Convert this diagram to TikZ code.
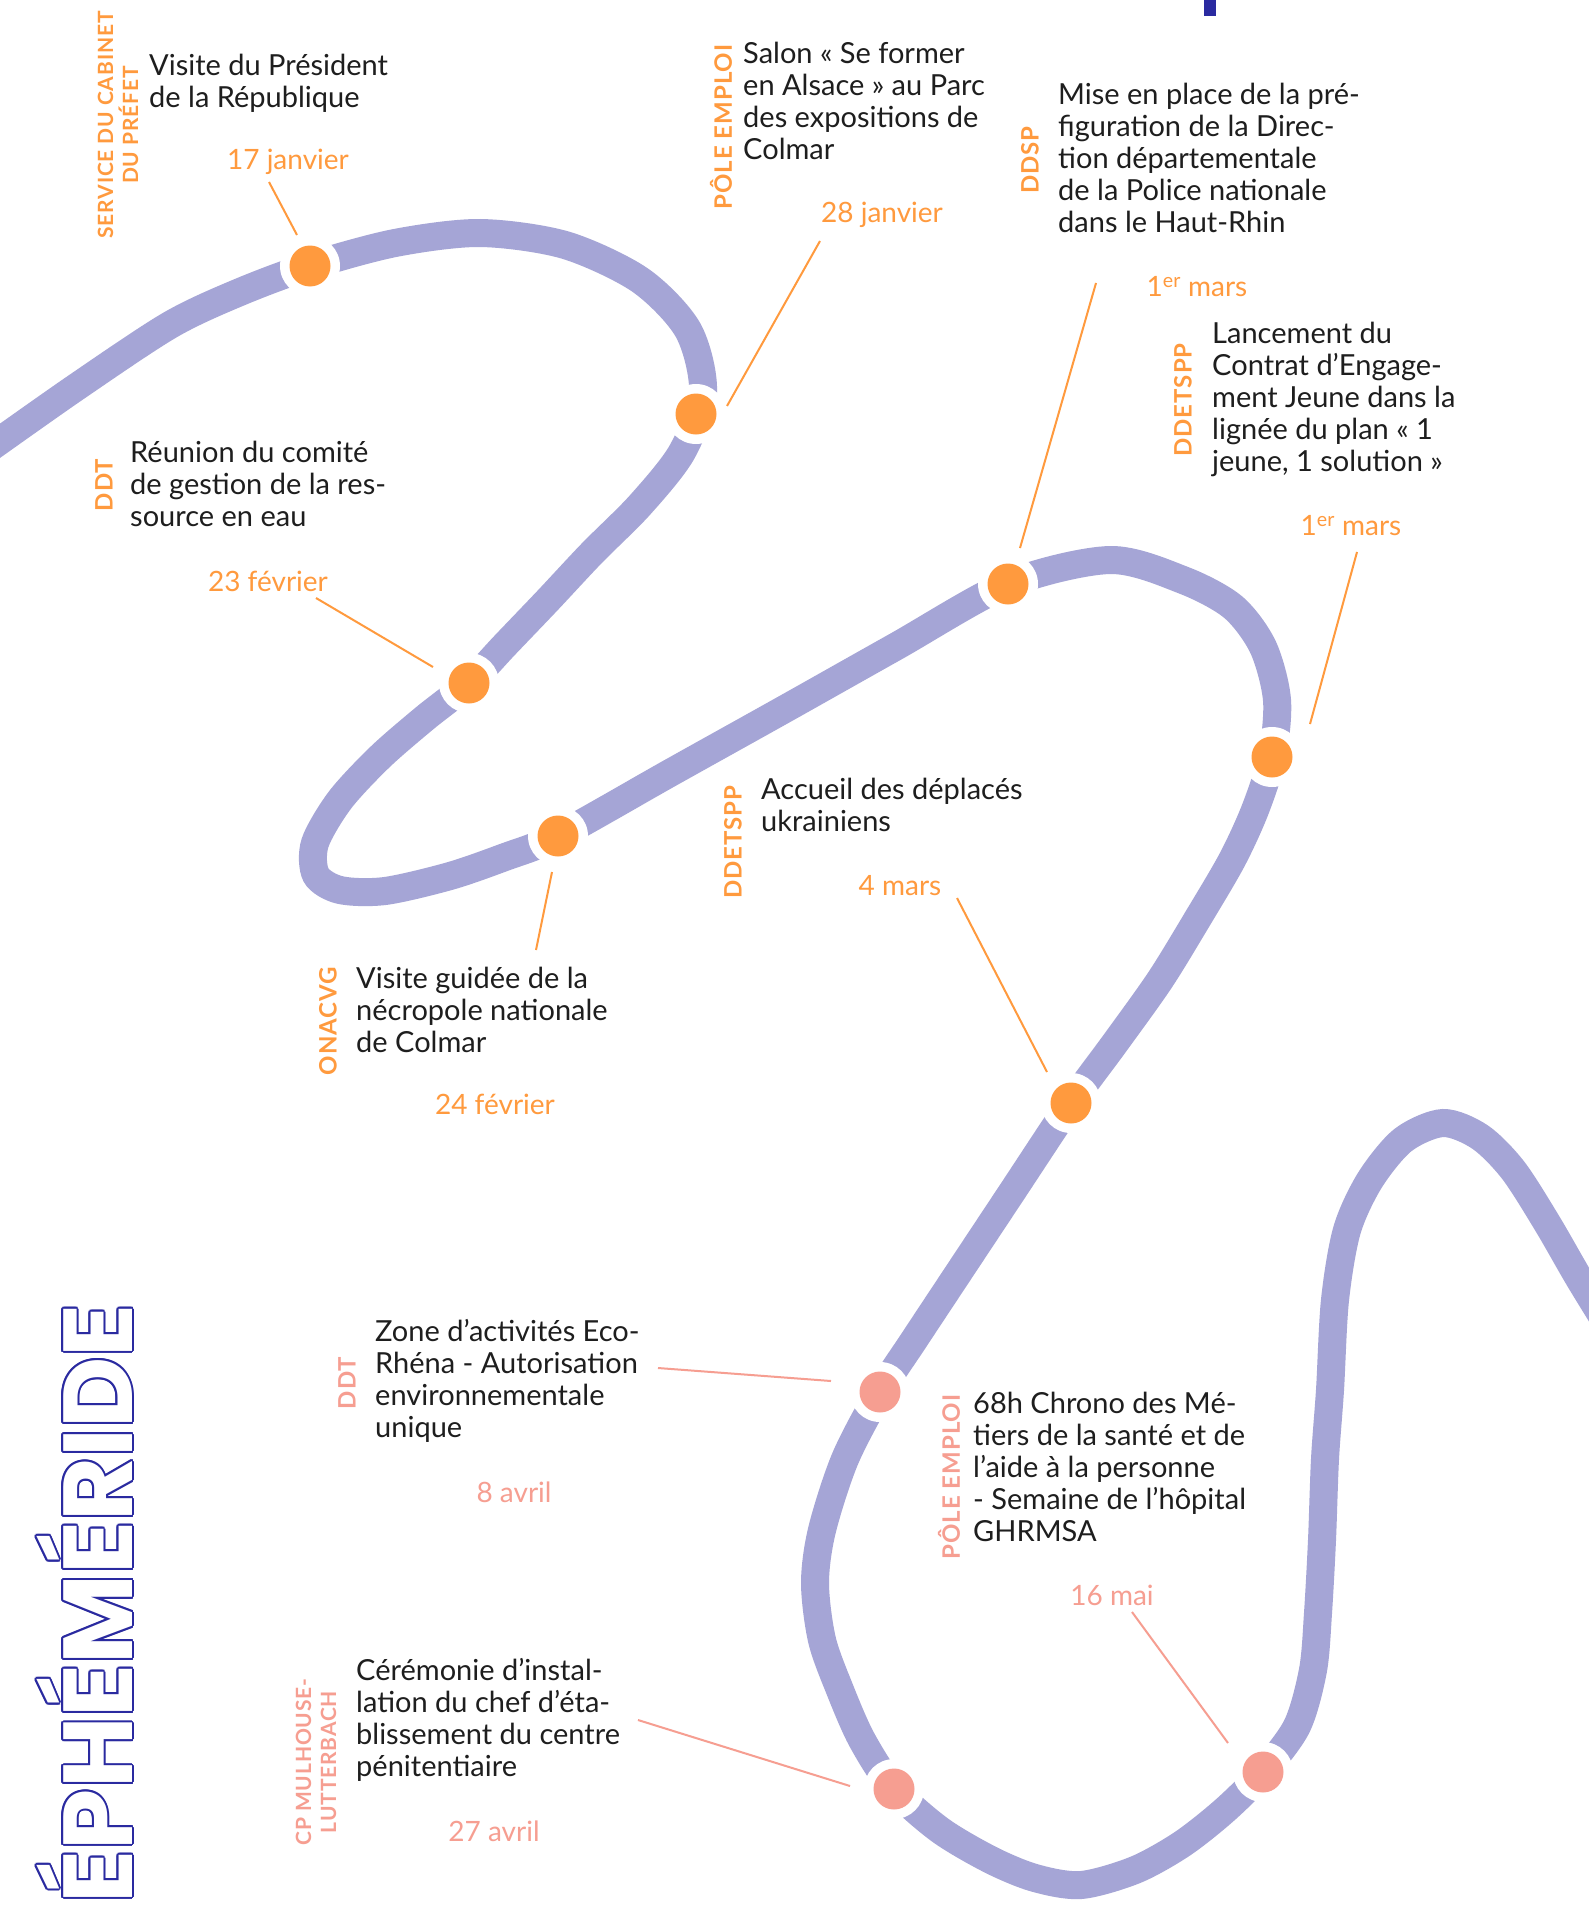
\documentclass[tikz,border=0pt]{standalone}
\usepackage{fontspec}
\setmainfont{Lato}
\newfontfamily\titlefont{Poppins}
\newfontfamily\tagfont{Lato}[LetterSpace=4.0]
\usetikzlibrary{calc}
\definecolor{lav}{RGB}{165,165,214}
\definecolor{orng}{RGB}{255,154,62}
\definecolor{rose}{RGB}{246,158,145}
\definecolor{navy}{RGB}{42,42,160}
\definecolor{ink}{RGB}{30,30,30}
\tikzset{
  curve/.style={line width=28pt, color=lav},
  halo/.style={circle, fill=white, minimum size=60pt, inner sep=0pt},
  spot/.style={circle, fill=#1, minimum size=41pt, inner sep=0pt},
  desc/.style={anchor=west, align=left, inner sep=0pt, text=ink, font=\fontsize{29}{32}\selectfont},
  day/.style={text=#1, inner sep=0pt, font=\fontsize{28}{32}\selectfont},
  tag/.style={text=#1, rotate=90, align=center, inner sep=0pt, font=\tagfont\bfseries\fontsize{24}{26}\selectfont},
  tagtwo/.style={tag=#1, font=\tagfont\bfseries\fontsize{21}{25}\selectfont},
  lead/.style={draw=#1, line width=2pt},
  title/.style={rotate=90, anchor=base east, inner sep=0pt, font=\titlefont\bfseries\fontsize{98}{98}\selectfont}
}

\begin{document}
\begin{tikzpicture}[x=1pt, y=-1pt]
    \useasboundingbox[fill=white] (0,0) rectangle (1588,1905);
    \fill[navy] (1204,0) rectangle (1216,16);
    \draw[curve] plot[smooth, tension=0.5] coordinates {(-20,455) (75,388) (170,325) (240,292)
        (310,266) (395,243) (480,233) (565,245) (640,280) (688,330) (703,392) (682,452) (640,505)
        (592,553) (548,600) (505,645) (469,683) (425,718) (380,757) (340,800) (315,843) (316,875)
        (340,890) (385,891) (450,876) (505,857) (558,836) (670,773) (783,710) (895,647) (1008,584)
        (1110,560) (1183,580) (1233,607) (1263,647) (1277,700) (1272,757) (1255,810) (1232,860)
        (1198,918) (1160,980) (1115,1043) (1071,1103) (1012,1192) (957,1275) (914,1340) (880,1392)
        (845,1459) (822,1530) (815,1583) (822,1640) (840,1690) (862,1740) (894,1789) (940,1830)
        (991,1860) (1035,1878) (1081,1885) (1135,1870) (1182,1844) (1225,1810) (1263,1772)
        (1297,1726) (1313,1670) (1318,1613) (1322,1540) (1325,1459) (1330,1390) (1335,1300)
        (1347,1230) (1370,1180) (1403,1140) (1443,1123) (1480,1137) (1513,1170) (1547,1223)
        (1580,1280) (1620,1345)};
    \coordinate (d1) at (310,266);
    \coordinate (d2) at (696,414);
    \coordinate (d3) at (469,683);
    \coordinate (d4) at (558,836);
    \coordinate (d5) at (1008,584);
    \coordinate (d6) at (1272,757);
    \coordinate (d7) at (1071,1103);
    \coordinate (d8) at (880,1392);
    \coordinate (d9) at (894,1789);
    \coordinate (d10) at (1263,1772);
    \foreach \n in {1,...,7} {
        \node[halo] (h\n) at (d\n) {};
        \node[spot=orng] (s\n) at (d\n) {};
    }
    \foreach \n in {8,9,10} {
        \node[halo] (h\n) at (d\n) {};
        \node[spot=rose] (s\n) at (d\n) {};
    }
    \node[tagtwo=orng] (t1) at (118,125) {SERVICE DU CABINET\\DU PRÉFET};
    \node[tag=orng] (t2) at (721,127) {PÔLE EMPLOI};
    \node[tag=orng] (t3) at (1030,160) {DDSP};
    \node[tag=orng] (t4) at (1183,400) {DDETSPP};
    \node[tag=orng] (t5) at (104,485) {DDT};
    \node[tag=orng] (t6) at (328,1021) {ONACVG};
    \node[tag=orng] (t7) at (733,842) {DDETSPP};
    \node[tag=rose] (t8) at (347,1383) {DDT};
    \node[tagtwo=rose] (t9) at (316,1762) {CP MULHOUSE-\\LUTTERBACH};
    \node[tag=rose] (t10) at (949,1477) {PÔLE EMPLOI};
    \node[desc] (e1) at (149,83) {Visite du Président\\de la République};
    \node[desc] (e2) at (743,101) {Salon « Se former\\en Alsace » au Parc\\des expositions de\\Colmar};
    \node[desc] (e3) at (1058,158) {Mise en place de la pré-\\figuration de la Direc-\\tion départementale\\de la Police nationale\\dans le Haut-Rhin};
    \node[desc] (e4) at (1212,399) {Lancement du\\Contrat d’Engage-\\ment Jeune dans la\\lignée du plan « 1\\jeune, 1 solution »};
    \node[desc] (e5) at (130,484) {Réunion du comité\\de gestion de la res-\\source en eau};
    \node[desc] (e6) at (356,1010) {Visite guidée de la\\nécropole nationale\\de Colmar};
    \node[desc] (e7) at (761,805) {Accueil des déplacés\\ukrainiens};
    \node[desc] (e8) at (375,1381) {Zone d’activités Eco-\\Rhéna - Autorisation\\environnementale\\unique};
    \node[desc] (e9) at (356,1720) {Cérémonie d’instal-\\lation du chef d’éta-\\blissement du centre\\pénitentiaire};
    \node[desc] (e10) at (973,1467) {68h Chrono des Mé-\\tiers de la santé et de\\l’aide à la personne\\- Semaine de l’hôpital\\GHRMSA};
    \node[day=orng] (m1) at (288,162) {17 janvier};
    \node[day=orng] (m2) at (882,215) {28 janvier};
    \node[day=orng] (m3) at (1197,287) {1\textsuperscript{er} mars};
    \node[day=orng] (m4) at (1351,526) {1\textsuperscript{er} mars};
    \node[day=orng] (m5) at (268,581) {23 février};
    \node[day=orng] (m6) at (495,1104) {24 février};
    \node[day=orng] (m7) at (900,886) {4 mars};
    \node[day=rose] (m8) at (514,1492) {8 avril};
    \node[day=rose] (m9) at (494,1831) {27 avril};
    \node[day=rose] (m10) at (1112,1595) {16 mai};
    \coordinate (a1) at (269,182);   \coordinate (b1) at (297,235);
    \coordinate (a2) at (820,241);   \coordinate (b2) at (727,406);
    \coordinate (a3) at (1096,283);  \coordinate (b3) at (1020,548);
    \coordinate (a4) at (1357,552);  \coordinate (b4) at (1310,724);
    \coordinate (a5) at (316,598);   \coordinate (b5) at (433,667);
    \coordinate (a6) at (552,872);   \coordinate (b6) at (536,950);
    \coordinate (a7) at (957,898);   \coordinate (b7) at (1047,1072);
    \coordinate (a8) at (658,1368);  \coordinate (b8) at (831,1381);
    \coordinate (a9) at (638,1720);  \coordinate (b9) at (850,1786);
    \coordinate (a10) at (1132,1612); \coordinate (b10) at (1228,1743);
    \foreach \n in {1,...,7}
    \draw[lead=orng] (a\n) -- (b\n);
    \foreach \n in {8,9,10}
    \draw[lead=rose] (a\n) -- (b\n);
    \coordinate (T) at (132,1304);
    \foreach \a in {0,30,...,330}
    \node[title, text=navy] at ($(T)+(\a:2)$) {ÉPHÉMÉRIDE};
    \node[title, text=white] (ttl) at (T) {ÉPHÉMÉRIDE};
\end{tikzpicture}
\end{document}
